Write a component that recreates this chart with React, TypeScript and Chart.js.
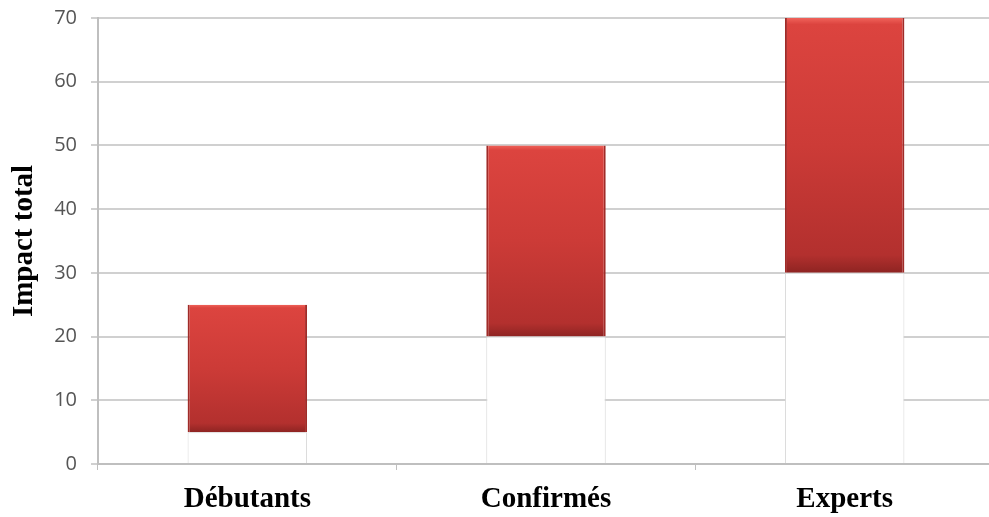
import React, { useEffect, useRef } from "react";
import { Chart, registerables } from "chart.js";

Chart.register(...registerables);

const categories = ["Débutants", "Confirmés", "Experts"];
const lowValues = [5, 20, 30];
const highValues = [25, 50, 70];
const yTicks = [0, 10, 20, 30, 40, 50, 60, 70];
const yTitle = "Impact total";

export default function App() {
  const ref = useRef<HTMLCanvasElement | null>(null);
  useEffect(() => {
    if (!ref.current) return;
    const spans = highValues.map((h, i) => h - lowValues[i]);
    const chart = new Chart(ref.current, {
      type: "bar",
      data: {
        labels: categories,
        datasets: [
          {
            data: lowValues,
            backgroundColor: "#ffffff",
            borderColor: "#d8d8d8",
            borderWidth: 1,
            barPercentage: 0.8,
            categoryPercentage: 0.5,
          },
          {
            data: spans,
            backgroundColor: (ctx: any) => {
              const chart = ctx.chart;
              const y = chart.scales?.y;
              if (!y || ctx.dataIndex === undefined) return "#c93632";
              const i = ctx.dataIndex;
              const top = y.getPixelForValue(highValues[i]);
              const bot = y.getPixelForValue(lowValues[i]);
              if (!isFinite(top) || !isFinite(bot) || top === bot) return "#c93632";
              const g = chart.ctx.createLinearGradient(0, top, 0, bot);
              g.addColorStop(0, "#f0625a");
              g.addColorStop(0.025, "#dc443f");
              g.addColorStop(0.5, "#cc3b37");
              g.addColorStop(0.93, "#b3302e");
              g.addColorStop(1, "#8e2422");
              return g;
            },
            borderColor: "#a02b28",
            borderWidth: { left: 2, right: 2, top: 0, bottom: 0 },
            borderSkipped: false,
            barPercentage: 0.8,
            categoryPercentage: 0.5,
          },
        ],
      },
      options: {
        animation: false,
        responsive: false,
        maintainAspectRatio: false,
        layout: { padding: { top: 18, right: 0, left: 0, bottom: 0 } },
        plugins: { legend: { display: false }, tooltip: { enabled: false } },
        scales: {
          x: {
            stacked: true,
            offset: true,
            grid: {
              display: true,
              offset: true,
              drawOnChartArea: false,
              drawTicks: true,
              tickLength: 6,
              color: "#bfbfbf",
            },
            border: { display: true, color: "#bfbfbf", width: 2 },
            ticks: {
              color: "#000000",
              padding: 12,
              font: { family: "'Liberation Serif', 'Times New Roman', serif", size: 29, weight: "bold" },
            },
            afterFit: (s: any) => {
              s.height = 53;
              s.paddingLeft = 0;
              s.paddingRight = 0;
            },
          },
          y: {
            stacked: true,
            min: 0,
            max: 70,
            afterBuildTicks: (s: any) => {
              s.ticks = yTicks.map((v) => ({ value: v }));
            },
            grid: {
              color: "#d0d0d0",
              lineWidth: 2,
              drawTicks: true,
              tickLength: 7,
            },
            border: { display: true, color: "#bfbfbf", width: 2 },
            ticks: {
              color: "#555555",
              padding: 14,
              font: { family: "'Open Sans', sans-serif", size: 20 },
            },
            title: {
              display: true,
              text: yTitle,
              color: "#000000",
              padding: { top: 7, bottom: 0 },
              font: { family: "'Liberation Serif', 'Times New Roman', serif", size: 29, weight: "bold" },
            },
            afterFit: (s: any) => {
              s.width = 98;
              s.paddingTop = 0;
              s.paddingBottom = 0;
            },
          },
        },
      },
    });
    return () => chart.destroy();
  }, []);
  return (
    <div style={{ position: "fixed", left: 0, top: 0, width: 994, height: 517, background: "#fff" }}>
      <canvas ref={ref} width={994} height={517} style={{ display: "block" }} />
    </div>
  );
}
